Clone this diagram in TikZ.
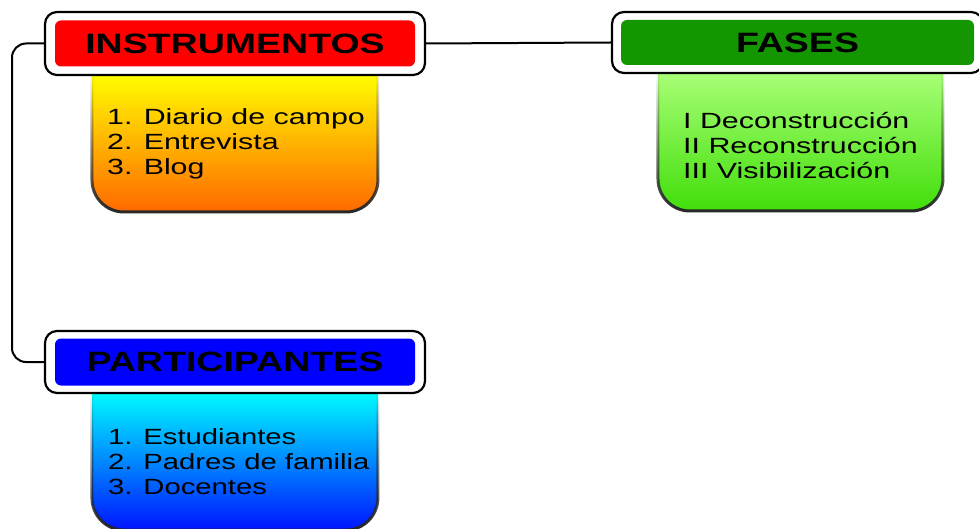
\documentclass[tikz,border=0pt]{standalone}
\usepackage{fontspec}
\setmainfont{Liberation Sans}
\usetikzlibrary{fadings}
\newcommand{\hstr}[1]{\scalebox{1.38}[1]{#1}}
\newcommand{\pstr}[1]{\scalebox{1.33}[1]{#1}}
\newcommand{\tstr}[1]{\scalebox{1.34}[1]{#1}}
\tikzfading[name=edgefade, top color=transparent!100, bottom color=transparent!0]
\definecolor{titlered}{RGB}{255,0,0}
\definecolor{titlegreen}{RGB}{20,150,0}
\definecolor{titleblue}{RGB}{0,0,255}
\definecolor{yelTop}{RGB}{255,255,0}
\definecolor{yelBot}{RGB}{255,105,0}
\definecolor{grnTop}{RGB}{170,255,120}
\definecolor{grnBot}{RGB}{65,222,10}
\definecolor{bluTop}{RGB}{0,255,255}
\definecolor{bluBot}{RGB}{0,20,255}
\begin{document}
\begin{tikzpicture}[x=1pt,y=-1pt,
  outerbox/.style={draw=black, line width=2.2pt, fill=white, rounded corners=12pt, inner sep=0},
  titlebox/.style={rounded corners=6pt, inner sep=0, font=\fontsize{28}{30}\selectfont\bfseries, text=black},
  bodytext/.style={anchor=north west, inner sep=0, align=left, font=\fontsize{22}{25}\selectfont, text=black},
  bodyedge/.style={line width=3pt, black!85, path fading=edgefade},
  conn/.style={line width=2pt, black}]
\useasboundingbox (0,0) rectangle (979,529);
\clip (0,0) rectangle (979,529);
\fill[white] (0,0) rectangle (979,529);

% bodies (top edge hidden under the title boxes)
\shade[top color=yelTop, bottom color=yelBot] (92,72) -- (92,180) arc[start angle=180, end angle=90, radius=32] -- (346,212) arc[start angle=90, end angle=0, radius=32] -- (378,72) -- cycle;
\draw[bodyedge] (92,72) -- (92,180) arc[start angle=180, end angle=90, radius=32] -- (346,212) arc[start angle=90, end angle=0, radius=32] -- (378,72);
\shade[top color=grnTop, bottom color=grnBot] (658,70) -- (658,179) arc[start angle=180, end angle=90, radius=32] -- (911,211) arc[start angle=90, end angle=0, radius=32] -- (943,70) -- cycle;
\draw[bodyedge] (658,70) -- (658,179) arc[start angle=180, end angle=90, radius=32] -- (911,211) arc[start angle=90, end angle=0, radius=32] -- (943,70);
\shade[top color=bluTop, bottom color=bluBot] (92,390) -- (92,498) arc[start angle=180, end angle=90, radius=32] -- (346,530) arc[start angle=90, end angle=0, radius=32] -- (378,390) -- cycle;
\draw[bodyedge] (92,390) -- (92,498) arc[start angle=180, end angle=90, radius=32] -- (346,530) arc[start angle=90, end angle=0, radius=32] -- (378,390);

% title boxes
\node[outerbox, minimum width=380pt, minimum height=63pt] (inst) at (235,43.5) {};
\node[titlebox, fill=titlered, minimum width=360pt, minimum height=46pt] (instT) at (inst.center) {\tstr{INSTRUMENTOS}};
\node[outerbox, minimum width=371pt, minimum height=61pt] (fas) at (797.5,42.5) {};
\node[titlebox, fill=titlegreen, minimum width=353pt, minimum height=45pt] (fasT) at (fas.center) {\tstr{FASES}};
\node[outerbox, minimum width=380pt, minimum height=62pt] (part) at (235,362) {};
\node[titlebox, fill=titleblue, minimum width=360pt, minimum height=47pt] (partT) at (part.center) {\tstr{PARTICIPANTES}};

% body texts
\node[bodytext] (instL) at (107,108) {\hstr{1. Diario de campo}\\ \hstr{2. Entrevista}\\ \hstr{3. Blog}};
\node[bodytext] (fasL) at (683,112) {\hstr{I Deconstrucción}\\ \hstr{II Reconstrucción}\\ \hstr{III Visibilización}};
\node[bodytext] (partL) at (108,428) {\pstr{1. Estudiantes}\\ \pstr{2. Padres de familia}\\ \pstr{3. Docentes}};

% connectors
\coordinate (lx) at (12,200);
\draw[conn] (inst.east) -- (fas.west);
\draw[conn, rounded corners=14pt] (inst.west) -| (lx) |- (part.west);
\end{tikzpicture}
\end{document}
